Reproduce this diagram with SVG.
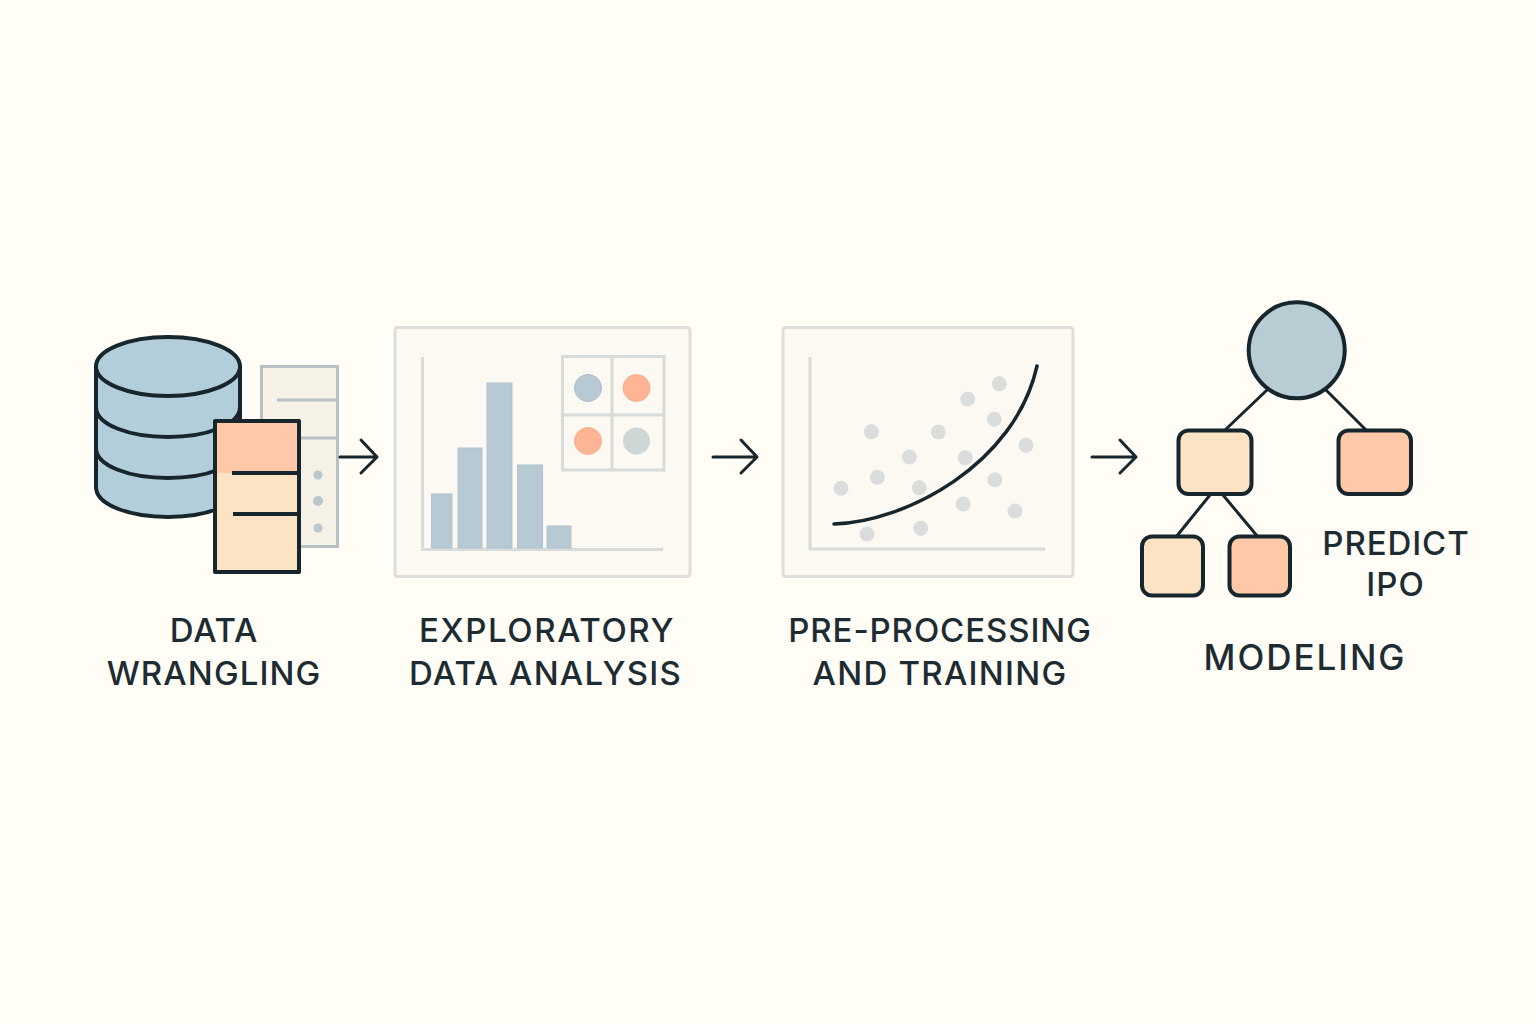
<svg xmlns="http://www.w3.org/2000/svg" width="1536" height="1024" viewBox="0 0 1536 1024">
<style>
.t{font-family:"Inter","Liberation Sans",sans-serif;font-size:33px;font-weight:500;letter-spacing:1.2px;fill:#1d2b33;text-anchor:middle}
.k{stroke:#17252d;stroke-width:4;stroke-linejoin:round}
.kl{stroke:#17252d;stroke-width:3;fill:none;stroke-linecap:round;stroke-linejoin:round}
.db{fill:#b3cedb}
.panel{fill:#fcf9f2;stroke:#dcdfdb;stroke-width:3}
.ax{stroke:#d8dbd8;stroke-width:3;fill:none}
.bar{fill:#b7c9d2;stroke:#aec3ce;stroke-width:1}
.pt{fill:#dadddb}
.p{fill:#fbe3c3}
.o{fill:#ffc9a9}
</style>
<rect width="1536" height="1024" fill="#fffdf5"/>
<g id="data-wrangling">
<g id="database">
<path class="db k" d="M96 366V487C96 505 130 517 168 517S240 505 240 487V366Z"/>
<path class="k" fill="none" d="M96 407C96 425 130 437 168 437S240 425 240 407M96 448C96 466 130 478 168 478S240 466 240 448"/>
<ellipse class="db k" cx="168" cy="366.500" rx="72" ry="29.500"/>
</g>
<g id="back-doc">
<rect x="261.500" y="366.500" width="76" height="180" fill="#f5f1e6" stroke="#b6c1c6" stroke-width="3"/>
<path d="M277 400H337M262 438H337" stroke="#b6c1c6" stroke-width="3" fill="none"/>
<circle cx="318" cy="475" r="4.500" fill="#b9c7ce"/><circle cx="318" cy="501" r="5" fill="#b9c7ce"/><circle cx="318" cy="528" r="4.500" fill="#b9c7ce"/>
</g>
<g id="front-doc">
<rect class="p" x="215" y="421" width="84" height="151"/>
<rect class="o" x="215" y="421" width="84" height="52"/>
<rect x="215" y="421" width="84" height="151" fill="none" class="k"/>
<path class="k" fill="none" d="M232 473H299M233 514H299" stroke-width="3"/>
</g>
<text class="t" x="214" y="642" letter-spacing="0.800" style="letter-spacing:.8px">DATA</text>
<text class="t" x="214" y="685" style="letter-spacing:1.1px">WRANGLING</text>
</g>
<g id="connectors">
<path class="kl" d="M340 457H377M361 440L377 457L361 473"/>
<path class="kl" d="M713 457H757M741 440L757 457L741 473"/>
<path class="kl" d="M1092 457H1136M1120 440L1136 457L1120 473"/>
<path class="kl" d="M1267 390L1224 431M1326 390L1367 431M1210 495L1176 537M1223 495L1258 537"/>
</g>
<g id="eda">
<rect class="panel" x="395" y="327.500" width="295" height="249" rx="3"/>
<path class="ax" d="M422.500 357V549.500H663"/>
<rect class="bar" x="431.500" y="494" width="20.500" height="54"/>
<rect class="bar" x="458" y="448" width="24" height="100"/>
<rect class="bar" x="487" y="383" width="25" height="165"/>
<rect class="bar" x="517.500" y="465" width="25" height="83"/>
<rect class="bar" x="547" y="526" width="24" height="22"/>
<path class="ax" d="M562.500 356.500H664V470H562.500ZM612 356.500V470M562.500 415H664"/>
<circle cx="588" cy="388" r="13.500" fill="#b7c9d2" stroke="#a9bfcb"/>
<circle cx="636.500" cy="388" r="13.500" fill="#fdb595" stroke="#fbac8b"/>
<circle cx="588" cy="441" r="13.500" fill="#fdb595" stroke="#fbac8b"/>
<circle cx="636.500" cy="441" r="13.500" fill="#cfd6d6"/>
<text class="t" x="547" y="642" style="letter-spacing:1.6px">EXPLORATORY</text>
<text class="t" x="545.500" y="685">DATA ANALYSIS</text>
</g>
<g id="preprocessing">
<rect class="panel" x="783" y="327.500" width="290" height="249" rx="3"/>
<path class="ax" d="M810 357V549H1045"/>
<g class="pt">
<circle cx="871.500" cy="431.700" r="7.500"/><circle cx="967.700" cy="399" r="7.500"/><circle cx="999.300" cy="383.700" r="7.500"/><circle cx="994.300" cy="419.300" r="7.500"/><circle cx="938.300" cy="432" r="7.500"/><circle cx="909.300" cy="457" r="7.500"/><circle cx="965.300" cy="457.700" r="7.500"/><circle cx="1026" cy="445.300" r="7.500"/><circle cx="877.300" cy="477.300" r="7.500"/><circle cx="841" cy="488.300" r="7.500"/><circle cx="919.300" cy="487.700" r="7.500"/><circle cx="994.700" cy="479.700" r="7.500"/><circle cx="963" cy="504" r="7.500"/><circle cx="1015" cy="511" r="7.500"/><circle cx="920.700" cy="528.300" r="7.500"/><circle cx="867" cy="534" r="7.500"/>
</g>
<path class="kl" style="stroke-width:3.500" d="M834 524C905 522 1015 465 1037 366"/>
<text class="t" x="940" y="642" style="letter-spacing:.9px">PRE-PROCESSING</text>
<text class="t" x="940" y="685" style="letter-spacing:1.25px">AND TRAINING</text>
</g>
<g id="modeling">
<circle class="k" cx="1296.700" cy="350.300" r="48" fill="#b8ccd4"/>
<rect class="p k" x="1178.500" y="430.500" width="73" height="63.500" rx="10"/>
<rect class="o k" x="1338.500" y="430.500" width="72.500" height="63.500" rx="10"/>
<rect class="p k" x="1142" y="536.500" width="61" height="59" rx="10"/>
<rect class="o k" x="1229.500" y="536.500" width="60.500" height="59" rx="10"/>
<text class="t" x="1396" y="555" style="letter-spacing:.9px">PREDICT</text>
<text class="t" x="1395.500" y="596" style="letter-spacing:1px">IPO</text>
<text class="t" x="1305" y="670" style="font-size:35px;letter-spacing:2px">MODELING</text>
</g>
</svg>
